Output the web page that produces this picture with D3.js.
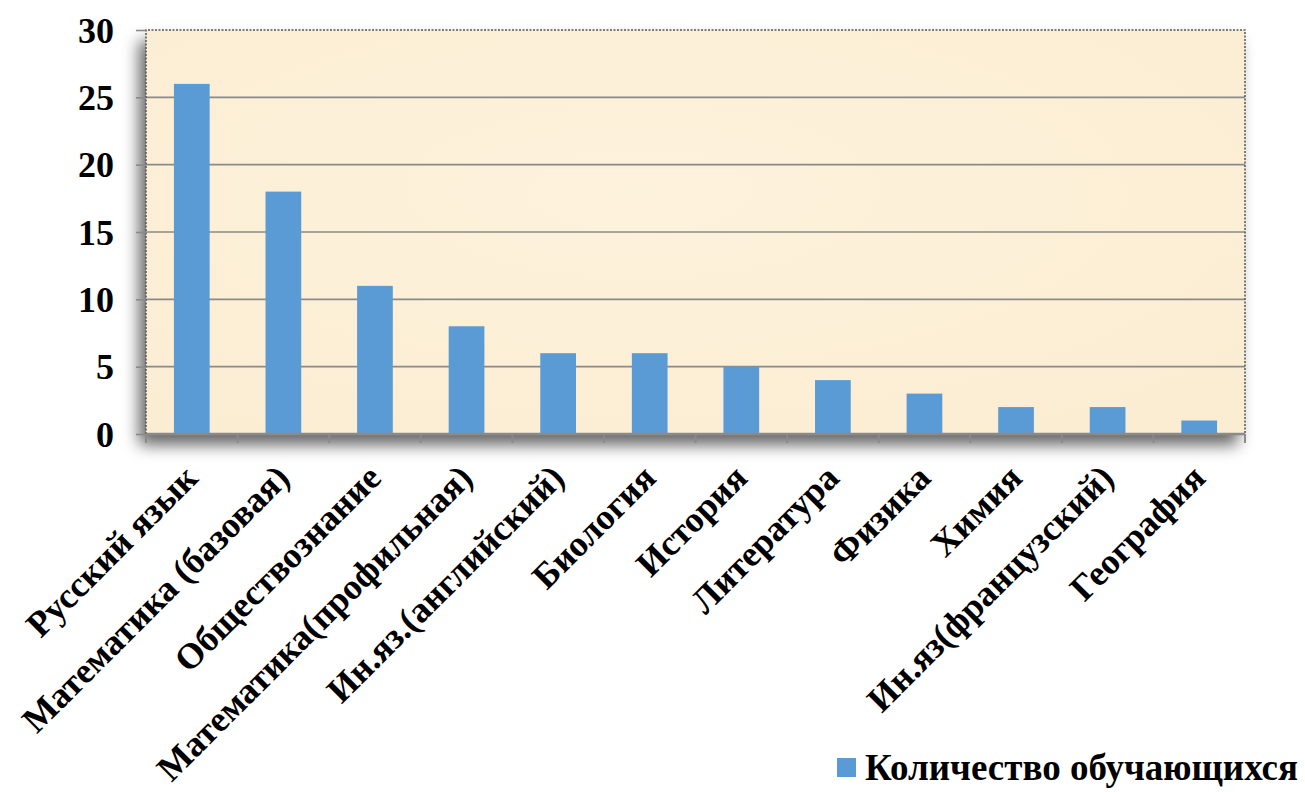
<!DOCTYPE html>
<html>
<head>
<meta charset="utf-8">
<script src="https://cdn.jsdelivr.net/npm/d3@7"></script>
<style>
  body { margin: 0; background: #ffffff; }
</style>
</head>
<body>
<div id="chart"></div>
<script>
// Number of students per exam subject

var subjects = ["Русский язык", "Математика (базовая)", "Обществознание", "Математика(профильная)",
    "Ин.яз.(английский)", "Биология", "История", "Литература", "Физика", "Химия",
    "Ин.яз(французский)", "География"];
var students = [26, 18, 11, 8, 6, 6, 5, 4, 3, 2, 2, 1];
var yTicks = [0, 5, 10, 15, 20, 25, 30];
var seriesName = "Количество обучающихся";

var svgWidth = 1305;
var svgHeight = 792;

var margin = {top: 30, right: 60, bottom: 358, left: 146};
var chartWidth = svgWidth - margin.left - margin.right;
var chartHeight = svgHeight - margin.top - margin.bottom;

var serifFont = "'Liberation Serif', 'Times New Roman', serif";

var svg = d3.select("#chart").append("svg")
    .attr("width", svgWidth)
    .attr("height", svgHeight);

var defs = svg.append("defs");

// soft shadow to the left / below the plot area
var shadow = defs.append("filter")
    .attr("id", "shadow")
    .attr("x", "-10%").attr("y", "-10%")
    .attr("width", "120%").attr("height", "130%");
shadow.append("feDropShadow")
    .attr("dx", -7).attr("dy", 11)
    .attr("stdDeviation", 8)
    .attr("flood-color", "#000")
    .attr("flood-opacity", 0.6);

// parchment-ish background
var paper = defs.append("radialGradient")
    .attr("id", "paper")
    .attr("cx", "45%").attr("cy", "40%").attr("r", "75%");
paper.append("stop").attr("offset", "0%").attr("stop-color", "#fdf2dc");
paper.append("stop").attr("offset", "60%").attr("stop-color", "#fcefd6");
paper.append("stop").attr("offset", "100%").attr("stop-color", "#fbedd2");

var chartGroup = svg.append("g")
    .attr("transform", `translate(${margin.left}, ${margin.top})`);

// Scales
var xBandScale = d3.scaleBand()
    .domain(subjects)
    .range([0, chartWidth])
    .paddingInner(0.61)
    .paddingOuter(0.305);

var yLinearScale = d3.scaleLinear()
    .domain([0, 30])
    .range([chartHeight, 0]);

// Plot area background with shadow
chartGroup.append("rect")
    .attr("width", chartWidth)
    .attr("height", chartHeight)
    .attr("fill", "url(#paper)")
    .attr("filter", "url(#shadow)");

// Grid lines
chartGroup.selectAll(".grid")
    .data(yTicks.filter(d => d > 0 && d < 30))
    .enter()
    .append("line")
    .attr("x1", 0)
    .attr("x2", chartWidth)
    .attr("y1", d => yLinearScale(d))
    .attr("y2", d => yLinearScale(d))
    .attr("stroke", "#8a8a8a")
    .attr("stroke-width", 1.6);

// Dotted frame (top, left, right)
chartGroup.append("path")
    .attr("d", `M0,${chartHeight} V0 H${chartWidth} V${chartHeight}`)
    .attr("fill", "none")
    .attr("stroke", "#555")
    .attr("stroke-width", 1.5)
    .attr("stroke-dasharray", "2,1.5");

// Bars
chartGroup.selectAll(".bar")
    .data(students)
    .enter()
    .append("rect")
    .attr("x", (d, i) => xBandScale(subjects[i]))
    .attr("y", d => yLinearScale(d))
    .attr("width", xBandScale.bandwidth())
    .attr("height", d => chartHeight - yLinearScale(d))
    .attr("fill", "#5b9bd5");

// Y axis
var yAxis = d3.axisLeft(yLinearScale)
    .tickValues(yTicks)
    .tickSize(10)
    .tickPadding(22);

var yAxisGroup = chartGroup.append("g").call(yAxis);
yAxisGroup.select(".domain").remove();
yAxisGroup.selectAll(".tick line")
    .attr("stroke", "#8a8a8a")
    .attr("stroke-width", 1.6);
yAxisGroup.selectAll(".tick text")
    .style("font-family", serifFont)
    .style("font-weight", "bold")
    .style("font-size", "36px")
    .attr("fill", "#000")
    .attr("dy", "0.34em");

// X axis line and boundary ticks
var step = xBandScale.step();
chartGroup.append("line")
    .attr("x1", 0)
    .attr("x2", chartWidth)
    .attr("y1", chartHeight)
    .attr("y2", chartHeight)
    .attr("stroke", "#8a8a8a")
    .attr("stroke-width", 2.5);

chartGroup.selectAll(".xtick")
    .data(d3.range(subjects.length + 1))
    .enter()
    .append("line")
    .attr("x1", d => d * step)
    .attr("x2", d => d * step)
    .attr("y1", chartHeight)
    .attr("y2", chartHeight + 9)
    .attr("stroke", "#8a8a8a")
    .attr("stroke-width", 2);

// Rotated category labels
chartGroup.selectAll(".xlabel")
    .data(subjects)
    .enter()
    .append("text")
    .attr("transform", d => `translate(${xBandScale(d) + xBandScale.bandwidth() / 2 + 8}, ${chartHeight + 46}) rotate(-45)`)
    .attr("text-anchor", "end")
    .style("font-family", serifFont)
    .style("font-weight", "bold")
    .style("font-size", "36px")
    .attr("fill", "#000")
    .text(d => d);

// Legend
var legend = svg.append("g")
    .attr("transform", "translate(837, 758)");

legend.append("rect")
    .attr("width", 19)
    .attr("height", 19)
    .attr("fill", "#5b9bd5");

legend.append("text")
    .attr("x", 28)
    .attr("y", 22)
    .style("font-family", serifFont)
    .style("font-weight", "bold")
    .style("font-size", "37px")
    .attr("fill", "#000")
    .text(seriesName);
</script>
</body>
</html>
